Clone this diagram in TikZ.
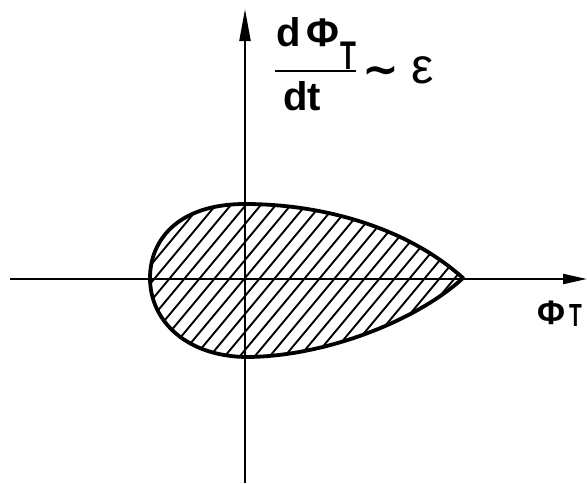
\documentclass[tikz,border=0pt]{standalone}
\usepackage{fontspec}
\setmainfont{Liberation Sans}
\newfontfamily\symfont{DejaVu Sans}
\usetikzlibrary{arrows.meta}
\newcommand{\narrowT}[1]{\scalebox{0.65}[1]{\fontsize{#1}{#1}\selectfont T}}
\begin{document}
\begin{tikzpicture}[x=1pt,y=-1pt,
  axis/.style={line width=2.2pt},
  outline/.style={line width=3.8pt},
  hatch/.style={line width=1.9pt},
  lbl/.style={inner sep=0pt,font=\fontsize{40}{40}\selectfont\bfseries}]
\useasboundingbox (0,0) rectangle (587,483);
% teardrop
\coordinate (tip) at (463,278);
\def\drop{(tip) .. controls (405,226) and (320,204) .. (245,204)
  .. controls (178,204) and (150,240) .. (150,278)
  .. controls (150,322) and (188,357) .. (248,357)
  .. controls (330,356) and (420,318) .. (tip) -- cycle}
\begin{scope}
  \clip \drop;
  \foreach \i in {0,...,38} {
    \draw[hatch] (-80+\i*15,380) -- ++(150,-180);
  }
\end{scope}
% axes
\coordinate (xs) at (10,279);
\coordinate (xe) at (587,279);
\coordinate (ys) at (245,483);
\coordinate (ye) at (245,9);
\draw[axis,-{Triangle[length=24pt,width=10pt]}] (xs) -- (xe);
\draw[axis,-{Triangle[length=32pt,width=11pt]}] (ys) -- (ye);
\draw[outline,line join=round] \drop;
% labels
\node[lbl,anchor=base west] (d1) at (276,46) {d};
\node[lbl,anchor=base west] (phi1) at (306,46) {Φ};
\node[lbl,anchor=base west] (t1) at (340,69) {\narrowT{40}};
\node[lbl,anchor=base west] (den) at (283,110) {dt};
\coordinate (barl) at (275,71);
\coordinate (barr) at (356,71);
\draw[line width=1.8pt] (barl) -- (barr);
\node[lbl,anchor=base west] (tl) at (362,84) {\fontsize{44}{44}\selectfont\symfont\bfseries ∼};
\node[lbl,anchor=base west] (eps) at (411,83) {\fontsize{50}{50}\selectfont\mdseries ε};
\node[lbl,anchor=base west] (phi2) at (537,324) {\fontsize{34}{34}\selectfont Φ};
\node[lbl,anchor=base west] (t2) at (569,326) {\narrowT{32}};
\end{tikzpicture}
\end{document}
